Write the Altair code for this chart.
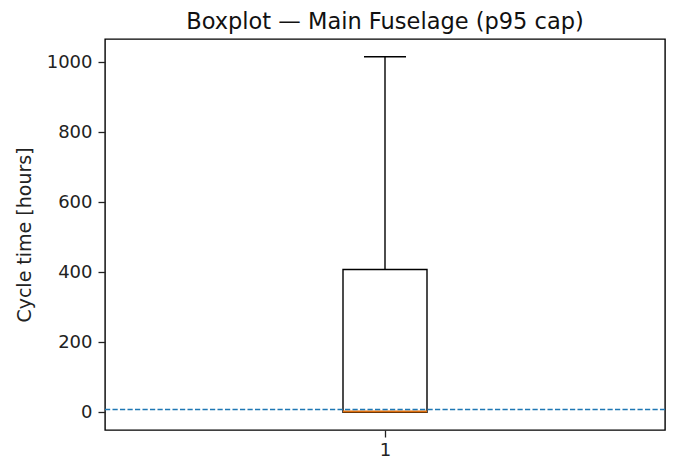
import altair as alt
import pandas as pd

# Data
groups = ["1"]
positions = [1]
q1_vals = [0]
median_vals = [2]
q3_vals = [408]
whisker_low = [0]
whisker_high = [1016]
target_line = [8]

box_width = 0.15
cap_width = 0.075

df = pd.DataFrame({
    "group": groups,
    "pos": positions,
    "q1": q1_vals,
    "median": median_vals,
    "q3": q3_vals,
    "wlo": whisker_low,
    "whi": whisker_high,
})
df["x_lo"] = df["pos"] - box_width / 2
df["x_hi"] = df["pos"] + box_width / 2
df["cap_lo"] = df["pos"] - cap_width / 2
df["cap_hi"] = df["pos"] + cap_width / 2

tdf = pd.DataFrame({"target": target_line})

font = "DejaVu Sans"
xscale = alt.Scale(domain=[0.5, 1.5], nice=False, zero=False)
yscale = alt.Scale(domain=[-50.8, 1066.8], nice=False, zero=False)

xaxis = alt.Axis(values=positions, labelExpr="'1'", grid=False, domain=False,
                 title=None, tickSize=7, labelPadding=4, labelFontSize=18,
                 labelFont=font, labelColor="#222", tickColor="#222", tickWidth=1.3)
yaxis = alt.Axis(values=[0, 200, 400, 600, 800, 1000], format="d", grid=False, domain=False,
                 title="Cycle time [hours]", tickSize=7, labelPadding=6,
                 labelFontSize=18, labelFont=font, labelColor="#222",
                 tickColor="#222", tickWidth=1.3, titleFont=font, titleFontSize=19,
                 titleFontWeight="normal", titleColor="#222", titlePadding=12)

base = alt.Chart(df)
lw = 1.4

box = base.mark_rect(fill="white", fillOpacity=0, stroke="black", strokeWidth=lw).encode(
    x=alt.X("x_lo:Q", scale=xscale, axis=xaxis),
    x2="x_hi:Q",
    y=alt.Y("q1:Q", scale=yscale, axis=yaxis),
    y2="q3:Q",
)

whisk_up = base.mark_rule(color="black", strokeWidth=lw).encode(
    x=alt.X("pos:Q", scale=xscale), y=alt.Y("q3:Q", scale=yscale), y2="whi:Q")
whisk_lo = base.mark_rule(color="black", strokeWidth=lw).encode(
    x=alt.X("pos:Q", scale=xscale), y=alt.Y("wlo:Q", scale=yscale), y2="q1:Q")
cap_up = base.mark_rule(color="black", strokeWidth=lw).encode(
    x=alt.X("cap_lo:Q", scale=xscale), x2="cap_hi:Q", y=alt.Y("whi:Q", scale=yscale))
cap_lo = base.mark_rule(color="black", strokeWidth=lw).encode(
    x=alt.X("cap_lo:Q", scale=xscale), x2="cap_hi:Q", y=alt.Y("wlo:Q", scale=yscale))
med = base.mark_rule(color="#e0700f", strokeWidth=2).encode(
    x=alt.X("x_lo:Q", scale=xscale), x2="x_hi:Q", y=alt.Y("median:Q", scale=yscale))

target = alt.Chart(tdf).mark_rule(color="#1f77b4", strokeWidth=1.5, strokeDash=[5.2, 2.3]).encode(
    y=alt.Y("target:Q", scale=yscale), x=alt.value(0), x2=alt.value(560))

chart = alt.layer(box, whisk_up, whisk_lo, cap_up, cap_lo, med, target).properties(
    width=560,
    height=391,
    autosize=alt.AutoSizeParams(type="none"),
    padding={"left": 97, "top": 31, "right": 3, "bottom": 34},
    title=alt.TitleParams("Boxplot — Main Fuselage (p95 cap)", font=font, fontSize=22.5,
                          fontWeight="normal", color="#111", offset=6, anchor="middle"),
).configure(background="white").configure_view(stroke="black", strokeWidth=1.4)

chart.save("out.html", embed_options={"renderer": "svg", "actions": False})
